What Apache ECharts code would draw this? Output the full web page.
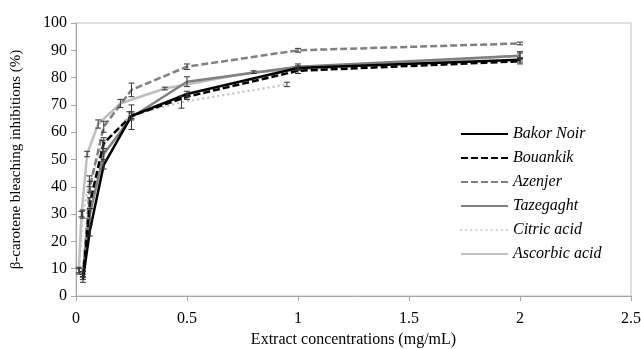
<!DOCTYPE html>
<html>
<head>
<meta charset="utf-8">
<script src="https://cdn.jsdelivr.net/npm/echarts@6/dist/echarts.min.js"></script>
<style>
  html, body { margin: 0; padding: 0; background: #fff; }
  #chart { width: 641px; height: 349px; }
</style>
</head>
<body>
<div id="chart"></div>
<script>
// concentrations (mg/mL)
var extractX = [0.03125, 0.0625, 0.125, 0.25, 0.5, 1, 2];
var citricX = [0.015, 0.03, 0.06, 0.12, 0.24, 0.475, 0.95];
var ascorbicX = [0.0125, 0.025, 0.05, 0.1, 0.2, 0.4, 0.8, 2];

// inhibition (%) and error half-widths
var bakorNoir = [6, 24, 48, 66, 74, 83.5, 86.5];
var bakorNoirErr = [1, 2, 1.5, 1, 1, 0.8, 0.8];
var bouankik = [7, 34, 56, 66, 73, 82.5, 86];
var bouankikErr = [1, 2, 2, 1.5, 1, 1, 1];
var azenjer = [8, 40, 62, 75.5, 84, 90, 92.5];
var azenjerErr = [1, 2, 2, 2.5, 1, 0.7, 0.5];
var tazegaght = [8, 30, 52, 65.5, 78.5, 84, 88];
var tazegaghtErr = [1, 2, 2, 4.5, 1.8, 1, 1.5];
var citric = [9, 30, 42, 55, 66, 71, 77.5];
var citricErr = [1, 1.5, 2, 2, 1.5, 2.2, 0.8];
var ascorbic = [9.5, 30, 52, 63, 70.5, 76, 82, 88];
var ascorbicErr = [1, 1, 1, 1.5, 1.5, 0.5, 0.5, 1];

var yTicks = [0, 10, 20, 30, 40, 50, 60, 70, 80, 90, 100];
var xTicks = [0, 0.5, 1, 1.5, 2, 2.5];

var serif = 'Liberation Serif';

function pairs(xs, ys) {
    return xs.map(function (x, i) { return [x, ys[i]]; });
}
function triples(xs, ys, es) {
    return xs.map(function (x, i) { return [x, ys[i], es[i]]; });
}

function errSeries(xs, ys, es) {
    return {
        type: 'custom',
        silent: true,
        z: 5,
        data: triples(xs, ys, es),
        renderItem: function (params, api) {
            var x = api.value(0), y = api.value(1), e = api.value(2);
            var lo = api.coord([x, y - e]);
            var hi = api.coord([x, y + e]);
            var w = 3;
            var st = { stroke: '#333', lineWidth: 1 };
            return {
                type: 'group',
                children: [
                    { type: 'line', shape: { x1: lo[0], y1: lo[1], x2: hi[0], y2: hi[1] }, style: st },
                    { type: 'line', shape: { x1: lo[0] - w, y1: lo[1], x2: lo[0] + w, y2: lo[1] }, style: st },
                    { type: 'line', shape: { x1: hi[0] - w, y1: hi[1], x2: hi[0] + w, y2: hi[1] }, style: st }
                ]
            };
        }
    };
}

function lineSeries(name, xs, ys, color, type, cap) {
    return {
        name: name,
        type: 'line',
        data: pairs(xs, ys),
        symbol: 'none',
        z: 3,
        color: color,
        lineStyle: { color: color, width: 2.5, type: type, cap: cap || 'butt' }
    };
}

var myChart = echarts.init(document.getElementById('chart'));

var option = {
    animation: false,
    grid: {
        left: 76, right: 10, top: 23, bottom: 53,
        containLabel: false,
        outerBoundsMode: 'none',
        show: true, borderColor: '#bfbfbf', borderWidth: 1
    },
    legend: {
        orient: 'vertical',
        left: 455,
        top: 121,
        itemWidth: 47,
        itemHeight: 14,
        itemGap: 8,
        itemStyle: { color: 'rgba(0,0,0,0)', borderWidth: 0, opacity: 0 },
        data: ['Bakor Noir', 'Bouankik', 'Azenjer', 'Tazegaght', 'Citric acid', 'Ascorbic acid'],
        textStyle: { fontFamily: serif, fontStyle: 'italic', fontSize: 16, color: '#000' }
    },
    xAxis: {
        type: 'value',
        min: 0, max: 2.5, interval: 0.5,
        name: 'Extract concentrations (mg/mL)',
        nameLocation: 'middle',
        nameGap: 35,
        nameTextStyle: { fontFamily: serif, fontSize: 16, color: '#000' },
        axisLine: { lineStyle: { color: '#a6a6a6' } },
        axisTick: { show: true, length: 5, lineStyle: { color: '#a6a6a6' } },
        axisLabel: {
            fontFamily: serif, fontSize: 16, color: '#000', margin: 15,
            hideOverlap: false,
            formatter: function (v) { return xTicks.indexOf(v) >= 0 ? String(v) : ''; }
        },
        splitLine: { show: false }
    },
    yAxis: {
        type: 'value',
        min: 0, max: 100, interval: 10,
        name: 'β-carotene bleaching inhibitions (%)',
        nameLocation: 'middle',
        nameGap: 52,
        nameTextStyle: { fontFamily: serif, fontSize: 15, color: '#000' },
        axisLine: { show: true, lineStyle: { color: '#a6a6a6' } },
        axisTick: { show: true, length: 5, lineStyle: { color: '#a6a6a6' } },
        axisLabel: {
            fontFamily: serif, fontSize: 16, color: '#000', margin: 9,
            formatter: function (v) { return yTicks.indexOf(v) >= 0 ? String(v) : ''; }
        },
        splitLine: { show: false }
    },
    series: [
        lineSeries('Ascorbic acid', ascorbicX, ascorbic, '#bfbfbf', 'solid'),
        lineSeries('Citric acid', citricX, citric, '#c8c8c8', [0.1, 5], 'round'),
        lineSeries('Tazegaght', extractX, tazegaght, '#808080', 'solid'),
        lineSeries('Azenjer', extractX, azenjer, '#808080', [7, 3]),
        lineSeries('Bouankik', extractX, bouankik, '#000', [7, 3]),
        lineSeries('Bakor Noir', extractX, bakorNoir, '#000', 'solid'),
        errSeries(ascorbicX, ascorbic, ascorbicErr),
        errSeries(citricX, citric, citricErr),
        errSeries(extractX, tazegaght, tazegaghtErr),
        errSeries(extractX, azenjer, azenjerErr),
        errSeries(extractX, bouankik, bouankikErr),
        errSeries(extractX, bakorNoir, bakorNoirErr)
    ]
};

myChart.setOption(option);
</script>
</body>
</html>
